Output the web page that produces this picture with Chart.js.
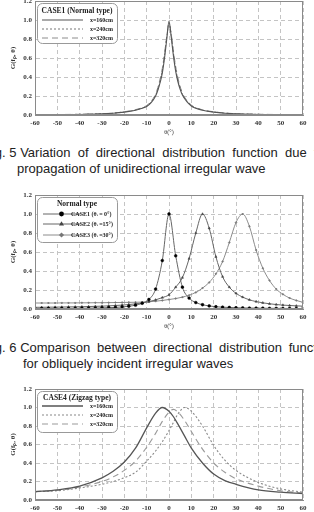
<!DOCTYPE html>
<html>
<head>
<meta charset="utf-8">
<script src="https://cdn.jsdelivr.net/npm/chart.js@4.4.0/dist/chart.umd.min.js"></script>
<style>
  body { margin: 0; width: 314px; height: 512px; overflow: hidden; background: #fff; position: relative; }
  canvas { position: absolute; left: 0; }
  .cap { position: absolute; white-space: nowrap; font-family: "Liberation Sans", Arial, sans-serif;
         font-size: 13px; line-height: 13px; color: #222; }
</style>
</head>
<body>
<canvas id="c1" width="314" height="147" style="top:-10px"></canvas>
<div class="cap" style="left:-16px;top:146px">Fig. 5 <span style="word-spacing:3.6px">Variation of directional distribution function due to</span></div>
<div class="cap" style="left:17px;top:162px">propagation of unidirectional irregular wave</div>

<canvas id="c2" width="314" height="151" style="top:180px"></canvas>
<div class="cap" style="left:-16px;top:341px">Fig. 6 <span style="word-spacing:3.2px">Comparison between directional distribution functions</span></div>
<div class="cap" style="left:23px;top:357px">for obliquely incident irregular waves</div>

<canvas id="c3" width="314" height="148" style="top:374px"></canvas>

<script>
// ---- Fig. 5 : CASE1 (Normal type) ----
var theta1 = [-60, -50, -40, -30, -25, -20, -15, -12, -10, -8, -6, -5, -4, -3, -2, -1, 0,
              1, 2, 3, 4, 5, 6, 8, 10, 12, 15, 20, 25, 30, 40, 50, 60];
var case1x160 = [0.003, 0.004, 0.006, 0.012, 0.018, 0.03, 0.05, 0.07, 0.09, 0.13, 0.2, 0.26, 0.34, 0.44, 0.6, 0.8, 0.99,
                 0.82, 0.62, 0.46, 0.35, 0.27, 0.21, 0.14, 0.095, 0.07, 0.05, 0.03, 0.018, 0.012, 0.006, 0.004, 0.003];
var case1x240 = [0.003, 0.004, 0.007, 0.013, 0.019, 0.032, 0.053, 0.074, 0.095, 0.14, 0.21, 0.27, 0.36, 0.47, 0.63, 0.82, 0.97,
                 0.84, 0.65, 0.49, 0.37, 0.29, 0.22, 0.15, 0.1, 0.074, 0.052, 0.032, 0.02, 0.013, 0.007, 0.004, 0.003];
var case1x320 = [0.004, 0.005, 0.008, 0.014, 0.02, 0.034, 0.056, 0.078, 0.1, 0.145, 0.22, 0.29, 0.38, 0.49, 0.65, 0.83, 0.95,
                 0.85, 0.67, 0.51, 0.39, 0.3, 0.23, 0.155, 0.105, 0.078, 0.055, 0.034, 0.021, 0.014, 0.008, 0.005, 0.004];

// ---- Fig. 6 : oblique incidence, markers every 3 degrees ----
var theta2 = [-60, -57, -54, -51, -48, -45, -42, -39, -36, -33, -30, -27, -24, -21, -18, -15, -12, -9, -6, -3, 0,
              3, 6, 9, 12, 15, 18, 21, 24, 27, 30, 33, 36, 39, 42, 45, 48, 51, 54, 57, 60];
var case1 = [0.004, 0.004, 0.005, 0.005, 0.006, 0.006, 0.007, 0.008, 0.009, 0.01, 0.012, 0.014, 0.017, 0.022, 0.029, 0.04, 0.06, 0.1, 0.21, 0.51, 1.0,
             0.56, 0.23, 0.115, 0.068, 0.045, 0.032, 0.024, 0.019, 0.016, 0.013, 0.011, 0.01, 0.009, 0.008, 0.007, 0.007, 0.006, 0.006, 0.005, 0.005];
var case2 = [0.018, 0.018, 0.019, 0.02, 0.021, 0.022, 0.023, 0.024, 0.026, 0.028, 0.03, 0.033, 0.037, 0.041, 0.047, 0.054, 0.064, 0.077, 0.096, 0.12, 0.15,
             0.23, 0.33, 0.53, 0.8, 1.0, 0.85, 0.55, 0.34, 0.23, 0.165, 0.125, 0.097, 0.078, 0.065, 0.055, 0.047, 0.041, 0.037, 0.033, 0.03];
var case3 = [0.063, 0.063, 0.063, 0.063, 0.064, 0.064, 0.064, 0.065, 0.065, 0.066, 0.066, 0.067, 0.068, 0.069, 0.07, 0.071, 0.073, 0.076, 0.082, 0.09, 0.1,
             0.11, 0.125, 0.145, 0.175, 0.22, 0.28, 0.37, 0.5, 0.7, 0.91, 1.0, 0.87, 0.62, 0.43, 0.3, 0.21, 0.155, 0.115, 0.09, 0.07];

// ---- CASE4 (Zigzag type) ----
var theta3 = [-60, -50, -40, -30, -25, -20, -15, -10, -6, -3, 0, 2, 4, 7, 10, 15, 20, 25, 30, 40, 50, 60];
var case4x160 = [0.09, 0.11, 0.15, 0.24, 0.31, 0.41, 0.56, 0.78, 0.94, 1.0, 0.96, 0.9, 0.82, 0.69, 0.56, 0.4, 0.28, 0.21, 0.17, 0.11, 0.085, 0.07];
var case4x240 = [0.09, 0.1, 0.13, 0.17, 0.2, 0.24, 0.3, 0.42, 0.53, 0.63, 0.75, 0.84, 0.93, 1.0, 0.96, 0.8, 0.59, 0.43, 0.32, 0.19, 0.12, 0.085];
var case4x320 = [0.09, 0.105, 0.14, 0.2, 0.25, 0.32, 0.42, 0.57, 0.72, 0.85, 0.95, 0.98, 0.95, 0.86, 0.74, 0.55, 0.4, 0.3, 0.23, 0.15, 0.1, 0.075];

var yTicks = ['0.0', '0.2', '0.4', '0.6', '0.8', '1.0', '1.2'];
var serif = '"Liberation Serif", "Times New Roman", serif';

function pts(xs, ys) {
  return xs.map(function (t, i) { return { x: t, y: ys[i] }; });
}

function roundBox(ctx, x, y, w, h, r) {
  ctx.beginPath();
  ctx.moveTo(x + r, y);
  ctx.arcTo(x + w, y, x + w, y + h, r);
  ctx.arcTo(x + w, y + h, x, y + h, r);
  ctx.arcTo(x, y + h, x, y, r);
  ctx.arcTo(x, y, x + w, y, r);
  ctx.closePath();
}

function marker(ctx, style, r, x, y) {
  ctx.beginPath();
  if (style === 'circle') {
    ctx.arc(x, y, r, 0, Math.PI * 2);
  } else if (style === 'triangle') {
    ctx.moveTo(x, y - r * 1.2);
    ctx.lineTo(x + r * 1.1, y + r * 0.7);
    ctx.lineTo(x - r * 1.1, y + r * 0.7);
    ctx.closePath();
  } else {
    ctx.moveTo(x, y - r * 1.3);
    ctx.lineTo(x + r * 1.3, y);
    ctx.lineTo(x, y + r * 1.3);
    ctx.lineTo(x - r * 1.3, y);
    ctx.closePath();
  }
  ctx.fill();
}

// frame around the plot + rounded legend box in the upper left corner
var boxLegend = {
  id: 'boxLegend',
  afterDraw: function (chart, args, o) {
    var ctx = chart.ctx, a = chart.chartArea;
    ctx.save();
    ctx.setLineDash([]);
    ctx.strokeStyle = '#8a8a8a';
    ctx.lineWidth = 1;
    ctx.strokeRect(Math.round(a.left) + 0.5, Math.round(a.top) + 0.5,
                   Math.round(a.right - a.left) - 1, Math.round(a.bottom - a.top) - 1);

    var x = a.left + o.x, y = a.top + o.y;
    roundBox(ctx, x + 0.5, y + 0.5, o.w, o.h, 5);
    ctx.fillStyle = '#fff';
    ctx.fill();
    ctx.strokeStyle = '#999';
    ctx.stroke();

    ctx.fillStyle = '#222';
    ctx.font = 'bold 7.5px ' + serif;
    ctx.textAlign = 'center';
    ctx.textBaseline = 'middle';
    ctx.fillText(o.title, x + o.w / 2, y + o.titleY);

    ctx.font = 'bold 6px ' + serif;
    chart.data.datasets.forEach(function (ds, i) {
      var ry = y + o.rowY[i];
      ctx.setLineDash(ds.borderDash || []);
      ctx.strokeStyle = ds.borderColor;
      ctx.lineWidth = ds.borderWidth;
      ctx.beginPath();
      ctx.moveTo(x + o.line[0], ry);
      ctx.lineTo(x + o.line[1], ry);
      ctx.stroke();
      ctx.setLineDash([]);
      if (o.markers) {
        ctx.fillStyle = ds.pointBackgroundColor;
        marker(ctx, ds.pointStyle, ds.pointRadius + 1, x + (o.line[0] + o.line[1]) / 2, ry);
      }
      ctx.fillStyle = '#222';
      ctx.textAlign = o.textAlign;
      ctx.fillText(ds.label, x + o.textX, ry);
    });
    ctx.restore();
  }
};

function options(padTop, legendCfg) {
  return {
    responsive: false,
    animation: false,
    layout: { padding: { top: padTop, right: 11, left: 0, bottom: 0 } },
    plugins: {
      legend: { display: false },
      tooltip: { enabled: false },
      boxLegend: legendCfg
    },
    elements: { line: { cubicInterpolationMode: 'monotone' } },
    scales: {
      x: {
        type: 'linear', min: -60, max: 60,
        ticks: { stepSize: 10, padding: 4, maxRotation: 0, color: '#333',
                 font: { family: serif, size: 7, weight: 'bold' } },
        grid: { color: '#c4c4c4', drawTicks: false },
        border: { dash: [4, 3], color: '#8a8a8a' },
        title: { display: true, text: 'θ(°)', color: '#333', padding: { top: 0, bottom: 1.4 },
                 font: { family: serif, size: 6 } },
        afterFit: function (s) { s.height = 22; }
      },
      y: {
        min: 0, max: 1.2,
        ticks: { stepSize: 0.2, padding: 3, color: '#333',
                 callback: function (v) { return yTicks[Math.round(v / 0.2)]; },
                 font: { family: serif, size: 7, weight: 'bold' } },
        grid: { color: '#c4c4c4', drawTicks: false },
        border: { dash: [4, 3], color: '#8a8a8a' },
        title: { display: true, text: 'G(fₚ, θ)', color: '#333', padding: { top: 9, bottom: 0 },
                 font: { family: serif, size: 7, weight: 'bold' } },
        afterFit: function (s) { s.width = 35; }
      }
    }
  };
}

function lineSet(label, xs, ys, color, dash, width) {
  return { label: label, data: pts(xs, ys), borderColor: color, borderDash: dash,
           borderWidth: width, pointRadius: 0, fill: false };
}

function markSet(label, xs, ys, color, style, r, fillColor) {
  return { label: label, data: pts(xs, ys), borderColor: color, borderWidth: 1, borderDash: [],
           pointStyle: style, pointRadius: r, pointBackgroundColor: fillColor,
           pointBorderColor: fillColor, pointBorderWidth: 0.5, fill: false };
}

new Chart(document.getElementById('c1'), {
  type: 'line',
  data: { datasets: [
    lineSet('x=160cm', theta1, case1x160, '#555', [], 1.1),
    lineSet('x=240cm', theta1, case1x240, '#777', [2, 2], 1),
    lineSet('x=320cm', theta1, case1x320, '#8c8c8c', [6, 4], 1)
  ] },
  options: options(11, { x: 2, y: 2, w: 80, h: 40, title: 'CASE1 (Normal type)', titleY: 8,
                         rowY: [17, 26, 35], line: [5, 46], textX: 76, textAlign: 'right', markers: false }),
  plugins: [boxLegend]
});

new Chart(document.getElementById('c2'), {
  type: 'line',
  data: { datasets: [
    markSet('CASE1 (θᵢ = 0°)', theta2, case1, '#666', 'circle', 1.4, '#000'),
    markSet('CASE2 (θᵢ =15°)', theta2, case2, '#666', 'triangle', 1.3, '#444'),
    markSet('CASE3 (θᵢ =30°)', theta2, case3, '#8c8c8c', 'rectRot', 1, '#777')
  ] },
  options: options(15, { x: 2, y: 2, w: 80, h: 45, title: 'Normal type', titleY: 7,
                         rowY: [17, 27, 38], line: [6, 43], textX: 34, textAlign: 'left', markers: true }),
  plugins: [boxLegend]
});

new Chart(document.getElementById('c3'), {
  type: 'line',
  data: { datasets: [
    lineSet('x=160cm', theta3, case4x160, '#555', [], 1.3),
    lineSet('x=240cm', theta3, case4x240, '#888', [2, 2], 1.1),
    lineSet('x=320cm', theta3, case4x320, '#999', [6, 4], 1.1)
  ] },
  options: options(15, { x: 2, y: 2, w: 80, h: 41, title: 'CASE4 (Zigzag type)', titleY: 7,
                         rowY: [15, 24, 33], line: [5, 46], textX: 76, textAlign: 'right', markers: false }),
  plugins: [boxLegend]
});
</script>
</body>
</html>
